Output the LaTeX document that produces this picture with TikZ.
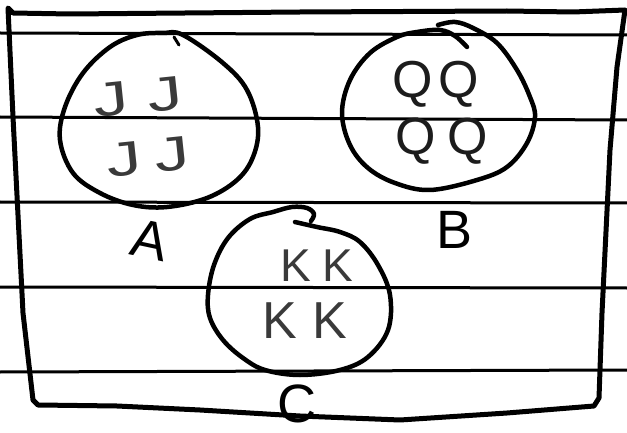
\documentclass[tikz,border=0pt]{standalone}
\usepackage{fontspec}
\setmainfont{Liberation Sans}
\definecolor{pencil}{HTML}{3A3A3A}
\definecolor{ink}{HTML}{1C1C1C}
\begin{document}
\begin{tikzpicture}[x=1pt,y=-1pt,
  rule/.style={line width=3pt, black},
  frame/.style={line width=5pt, black, line join=round, line cap=round},
  ring/.style={line width=4.5pt, black, line cap=round, line join=round},
  letters/.style={inner sep=0pt, text=pencil, font=\fontsize{48}{48}\selectfont},
  qletters/.style={inner sep=0pt, text=ink, font=\fontsize{52}{52}\selectfont},
  label/.style={inner sep=0pt, text=black, font=\fontsize{54}{54}\selectfont}]
\fill[white] (0,0) rectangle (627,433);
\useasboundingbox (0,0) rectangle (627,433);
% ruled lines
\draw[rule] (0,33) -- (627,35);
\draw[rule] (0,117) -- (627,120);
\draw[rule] (0,202) -- (627,203);
\draw[rule] (0,287) -- (627,288);
\draw[rule] (0,372) -- (627,370);
% frame
\draw[frame] (8,8) -- (13,13) -- (70,14) -- (300,12) -- (507,11) -- (573,12) -- (625,10)
  -- (617,67) -- (610,150) -- (602,313) -- (599,398) -- (594,406)
  -- (507,413) -- (400,420) -- (300,416) -- (200,410) -- (117,406) -- (38,405)
  -- (33,400) -- (23,313) -- (13,117) -- cycle;
% circle A
\draw[ring] plot[smooth cycle, tension=0.6] coordinates {
  (163,33) (183,35) (223,63) (247,90) (258,127) (253,157) (237,180) (207,198)
  (167,207) (133,205) (100,193) (73,173) (60,140) (65,107) (83,73) (110,47) (137,35)};
\draw[ring, line width=3pt] (174,37) -- (179,45);
% circle B
\draw[ring] plot[smooth, tension=0.6] coordinates {
  (467,47) (455,36) (440,30) (417,32) (397,37) (370,53) (350,80) (342,113) (350,145)
  (368,168) (395,183) (430,190) (477,180) (507,167) (527,143) (535,117) (530,97)
  (517,70) (497,43) (473,28) (455,22) (438,25)};
% circle C
\draw[ring] plot[smooth, tension=0.6] coordinates {
  (295,222) (317,227) (340,232) (360,242) (378,265) (390,295) (388,330) (368,357)
  (340,370) (300,375) (265,370) (243,358) (223,340) (210,318) (208,295) (214,265)
  (228,238) (250,219) (273,212) (292,207) (307,208) (314,214) (311,221)};
% contents
\node[letters, rotate=6] (a1) at (138,97) {\scalebox{1.45}[1]{J}\hspace{20pt}\scalebox{1.45}[1]{J}};
\node[letters, rotate=6] (a2) at (148,157) {\scalebox{1.45}[1]{J}\hspace{14pt}\scalebox{1.45}[1]{J}};
\node[qletters] (b1) at (436,84) {Q\hspace{6pt}Q};
\node[qletters] (b2) at (442,141) {Q\hspace{12pt}Q};
\node[letters, font=\fontsize{46}{46}\selectfont] (c1) at (317,266) {K\hspace{12pt}K};
\node[letters, font=\fontsize{52}{52}\selectfont] (c2) at (305,321) {K\hspace{16pt}K};
% labels
\node[label, rotate=-12] (la) at (150,240) {A};
\node[label] (lb) at (455,230) {B};
\node[label] (lc) at (297,404) {C};
\end{tikzpicture}
\end{document}
